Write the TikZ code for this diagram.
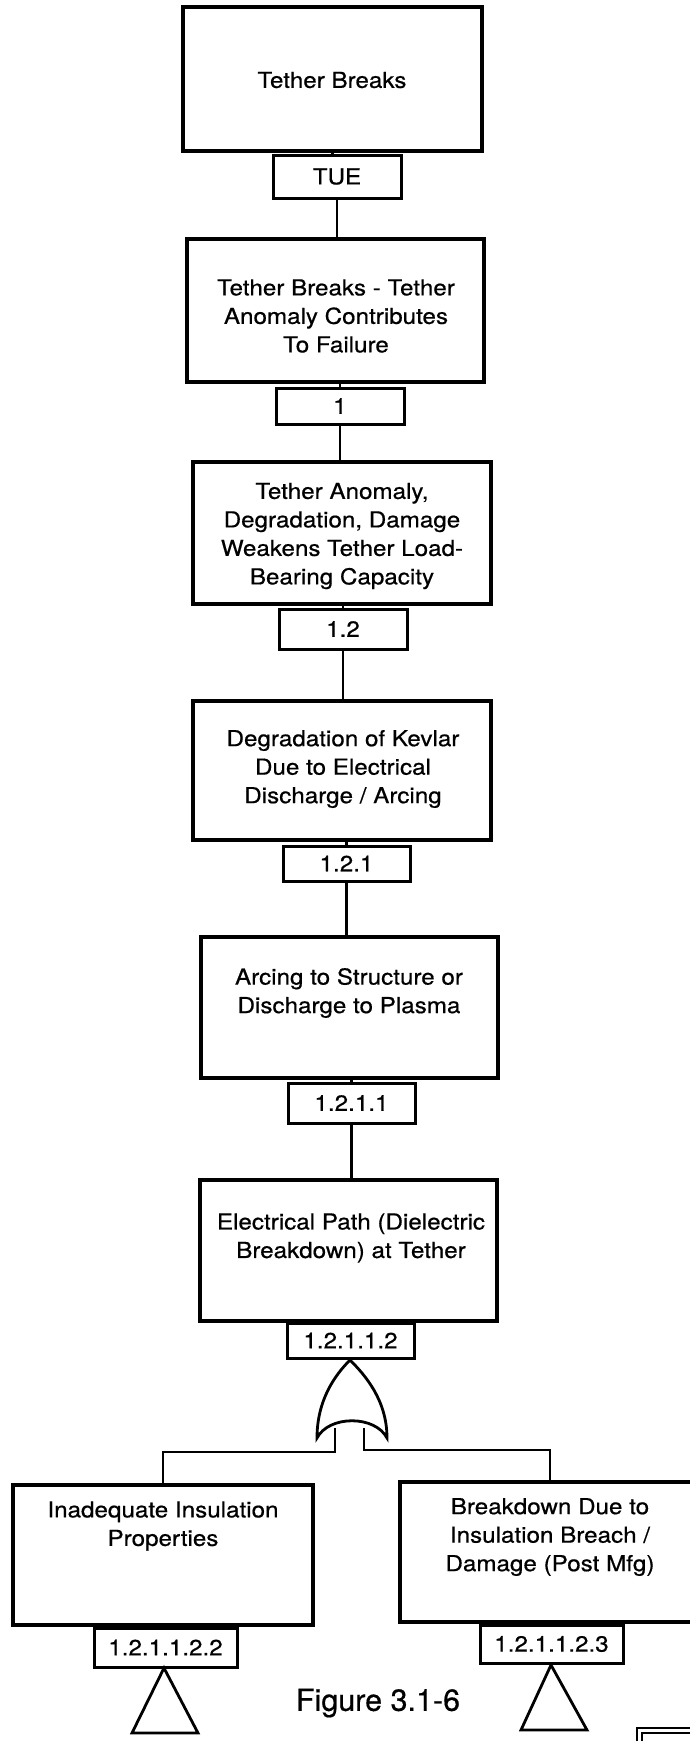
\documentclass[tikz,border=0pt]{standalone}
\usepackage{fontspec}
\setmainfont[FakeStretch=1.1,FakeBold=0.6]{TeX Gyre Heros}
\newfontfamily\figfont[FakeBold=0.4]{TeX Gyre Heros}
\usetikzlibrary{calc}
\begin{document}
\begin{tikzpicture}[x=1pt,y=-1pt,
  box/.style={draw, line width=3.2pt, inner sep=0pt},
  lbl/.style={draw, line width=3pt, inner sep=0pt, font=\fontsize{22}{26}\selectfont},
  txt/.style={align=center, inner sep=0pt, font=\fontsize{22}{28.5}\selectfont},
  conn/.style={line width=2.8pt},
  sym/.style={line width=2.8pt, line join=miter}]
\useasboundingbox[fill=white] (0,0) rectangle (690,1741);

% event boxes
\node[box, minimum width=299pt, minimum height=144pt] (b1) at (332.5,79) {};
\node[txt] (t1) at (332,80) {Tether Breaks};
\node[lbl, minimum width=128pt, minimum height=43pt] (l0) at (337,176.5) {TUE};

\node[box, minimum width=297pt, minimum height=143pt] (b2) at (335.5,310.5) {};
\node[txt] (t2) at (336,316) {Tether Breaks - Tether\\Anomaly Contributes\\To Failure};
\node[lbl, minimum width=128pt, minimum height=36pt] (l1) at (340,406) {1};

\node[box, minimum width=298pt, minimum height=142pt] (b3) at (342,533) {};
\node[txt] (t3) at (342,536) {Tether Anomaly,\\Degradation, Damage\\Weakens Tether Load-\\Bearing Capacity};
\node[lbl, minimum width=128pt, minimum height=40pt] (l12) at (343,629) {1.2};

\node[box, minimum width=298pt, minimum height=139pt] (b4) at (342,770.5) {};
\node[txt] (t4) at (343,769) {Degradation of Kevlar\\Due to Electrical\\Discharge / Arcing};
\node[lbl, minimum width=127pt, minimum height=35pt] (l121) at (346.5,863.5) {1.2.1};

\node[box, minimum width=297pt, minimum height=141pt] (b5) at (349.5,1007.5) {};
\node[txt] (t5) at (349,993) {Arcing to Structure or\\Discharge to Plasma};
\node[lbl, minimum width=127pt, minimum height=40pt] (l1211) at (351.5,1103) {1.2.1.1};

\node[box, minimum width=297pt, minimum height=141pt] (b6) at (348.5,1250.5) {};
\node[txt] (t6) at (351,1238) {Electrical Path (Dielectric\\Breakdown) at Tether};
\node[lbl, minimum width=127pt, minimum height=35pt] (l12112) at (350.5,1340.5) {1.2.1.1.2};

\node[box, minimum width=300pt, minimum height=140pt] (lb) at (163,1555) {};
\node[txt] (tlb) at (163,1526) {Inadequate Insulation\\Properties};
\node[lbl, minimum width=143pt, minimum height=39pt] (l1211122) at (165.5,1647.5) {1.2.1.1.2.2};

\node[box, minimum width=300pt, minimum height=140pt] (rb) at (550,1552) {};
\node[txt] (trb) at (550,1537) {Breakdown Due to\\Insulation Breach /\\Damage (Post Mfg)};
\node[lbl, minimum width=143pt, minimum height=38pt] (l1211123) at (551.5,1644) {1.2.1.1.2.3};

% connectors in the chain
\draw[conn] (b1.south) -- (b1.south |- l0.north);
\draw[conn] (l0.south) -- (l0.south |- b2.north);
\draw[conn] (b2.south -| l1.north) -- (l1.north);
\draw[conn] (l1.south) -- (l1.south |- b3.north);
\draw[conn] (b3.south -| l12.north) -- (l12.north);
\draw[conn] (l12.south) -- (l12.south |- b4.north);
\draw[conn] (b4.south -| l121.north) -- (l121.north);
\draw[conn] (l121.south) -- (l121.south |- b5.north);
\draw[conn] (b5.south -| l1211.north) -- (l1211.north);
\draw[conn] (l1211.south) -- (l1211.south |- b6.north);
\draw[conn] (b6.south -| l12112.north) -- (l12112.north);

% OR gate
\coordinate (gtop) at (350,1360);
\coordinate (gbl) at (317,1438);
\coordinate (gbr) at (387,1438);
\coordinate (gin1) at (335,1428);
\coordinate (gin2) at (364,1428);
\draw[sym] (gbl) .. controls (317,1400) and (335,1375) .. (gtop)
  .. controls (365,1375) and (387,1400) .. (gbr)
  .. controls (375,1415) and (329,1415) .. (gbl) -- cycle;
\draw[conn] (l12112.south) -- (gtop);

\draw[conn] (gin1) -- (335,1452) -| (lb.north);
\draw[conn] (gin2) -- (364,1450) -| (rb.north);

\draw[conn] (lb.south -| l1211122.north) -- (l1211122.north);
\draw[conn] (rb.south -| l1211123.north) -- (l1211123.north);

% transfer triangles
\coordinate (tri1) at (164,1668);
\coordinate (tri2) at (551,1665);
\draw[sym] (tri1) -- ++(-32,65) -- ++(66,0) -- cycle;
\draw[sym] (tri2) -- ++(-30,65) -- ++(66,0) -- cycle;

% caption
\node[inner sep=0pt, font=\figfont\fontsize{30.5}{32}\selectfont] (fig) at (378,1703) {Figure 3.1-6};

% partial double frame at bottom right
\draw[line width=2.4pt] (637,1760) -- (637,1728) -- (720,1728);
\draw[line width=1.8pt] (642,1760) -- (642,1733) -- (720,1733);
\end{tikzpicture}
\end{document}
